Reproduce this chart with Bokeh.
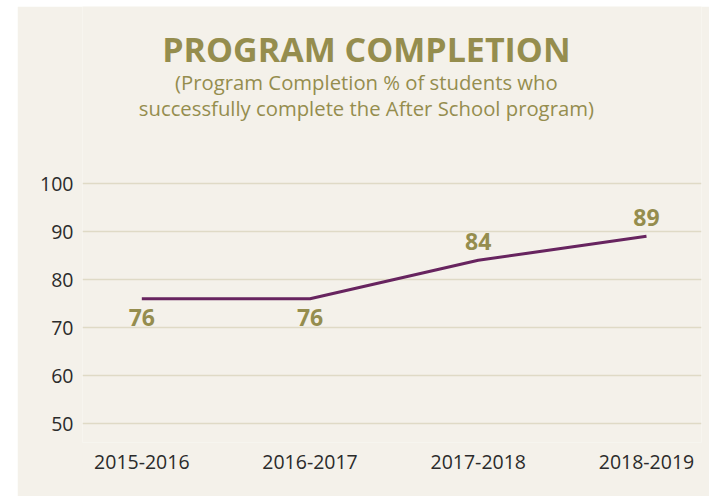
from bokeh.plotting import figure
from bokeh.models import Range1d, FixedTicker, Spacer, ColumnDataSource
from bokeh.layouts import row, column
from bokeh.core.properties import value
from bokeh.embed import file_html
from bokeh.resources import INLINE

# ---- data ----
years = ["2015-2016", "2016-2017", "2017-2018", "2018-2019"]
completion = [76, 76, 84, 89]
label_side = ["below", "below", "above", "above"]
y_ticks = [50, 60, 70, 80, 90, 100]
title_text = "PROGRAM COMPLETION"
subtitle_lines = ["(Program Completion % of students who",
                  "successfully complete the After School program)"]

# ---- style ----
BG = "#f4f1ea"
OLIVE = "#958d4e"
PURPLE = "#67245f"
GRID = "#dfdac6"
TEXT = "#2b2b2b"
FONT = "Open Sans"

xs = list(range(len(years)))

# pixel-based layout helpers (10 units = 48 px)
PX_PER_UNIT = 4.8
Y_TOP_PX = 177  # pixels between frame top and the 100 gridline
y_top = 100 + Y_TOP_PX / PX_PER_UNIT
y_bottom = 50 - 19 / PX_PER_UNIT

p = figure(width=692, height=490, output_backend="svg", toolbar_location=None,
           x_range=Range1d(-0.3526, 3.327), y_range=Range1d(y_bottom, y_top),
           min_border_left=65, min_border_right=8, min_border_top=0,
           min_border_bottom=54)
p.background_fill_color = BG
p.border_fill_color = BG
p.outline_line_color = None

p.line(xs, completion, line_color=PURPLE, line_width=3)

offsets = [19 if s == "below" else -19 for s in label_side]
src = ColumnDataSource(dict(x=xs, y=completion, t=[str(v) for v in completion], off=offsets))
p.text("x", "y", text="t", y_offset="off", source=src, text_align="center",
       text_baseline="middle", text_color=OLIVE, text_font=value(FONT),
       text_font_style="bold", text_font_size="23px")

# titles
def px_y(px_from_100):
    return 100 + px_from_100 / PX_PER_UNIT

cx = 1.335
p.text([cx], [px_y(135)], text=[title_text], text_align="center", text_baseline="middle",
       text_color=OLIVE, text_font=value(FONT), text_font_style="bold", text_font_size="34px")
p.text([cx, cx], [px_y(102), px_y(76)], text=subtitle_lines, text_align="center",
       text_baseline="middle", text_color=OLIVE, text_font=value(FONT), text_font_size="20.3px")

# axes
p.xaxis.ticker = FixedTicker(ticks=xs)
p.xaxis.major_label_overrides = {i: y for i, y in enumerate(years)}
p.yaxis.ticker = FixedTicker(ticks=y_ticks)
for ax in (p.xaxis[0], p.yaxis[0]):
    ax.axis_line_color = None
    ax.major_tick_line_color = None
    ax.minor_tick_line_color = None
    ax.major_tick_out = 0
    ax.major_tick_in = 0
    ax.minor_tick_out = 0
    ax.major_label_text_font = FONT
    ax.major_label_text_font_size = "19.5px"
    ax.major_label_text_color = TEXT
p.xaxis.major_label_standoff = 12
p.yaxis.major_label_standoff = 9

p.xgrid.grid_line_color = None
p.ygrid.grid_line_color = GRID
p.ygrid.grid_line_width = 1.5

layout = column(Spacer(width=709, height=6), row(Spacer(width=17, height=490), p))
open("out.html", "w").write(file_html(layout, INLINE))
